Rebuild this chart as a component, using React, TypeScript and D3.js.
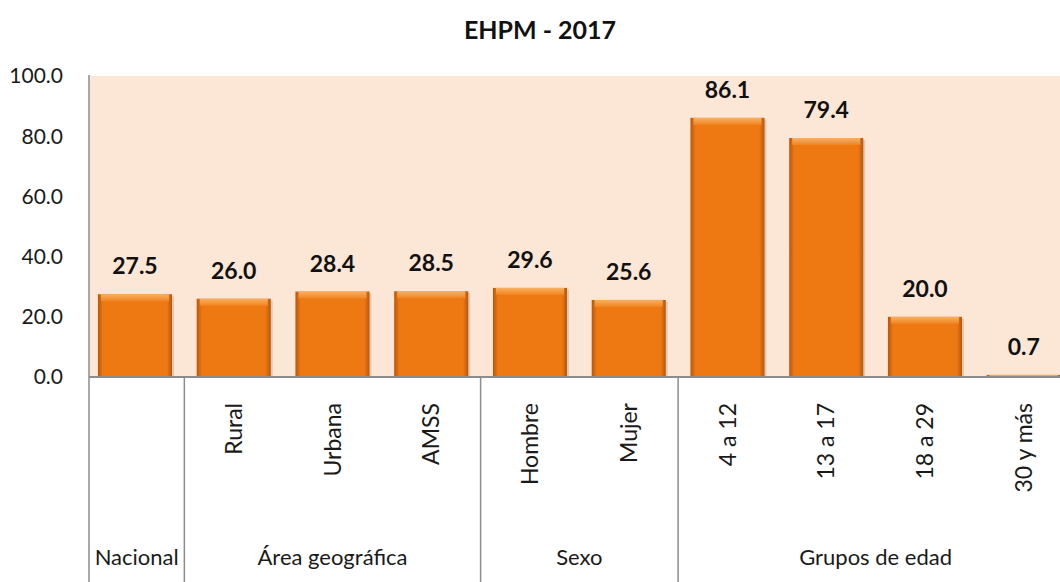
import React from "react";
import * as d3 from "d3";

const categories = ["Nacional", "Rural", "Urbana", "AMSS", "Hombre", "Mujer", "4 a 12", "13 a 17", "18 a 29", "30 y más"];
const values = [27.5, 26.0, 28.4, 28.5, 29.6, 25.6, 86.1, 79.4, 20.0, 0.7];
const groups = ["Nacional", "Área geográfica", "Sexo", "Grupos de edad"];
const groupStarts = [0, 1, 4, 6];
const groupEnds = [1, 4, 6, 10];
const yTicks = [0, 20, 40, 60, 80, 100];
const title = "EHPM - 2017";

const W = 1060, H = 582;
const axisX = 89;
const rangeL = 85.6, rangeR = 1073.1, top = 76, bottom = 377;
const FONT = "Lato, 'Open Sans', sans-serif";

export default function App() {
  const x = d3.scaleBand<string>().domain(categories).range([rangeL, rangeR]).paddingInner(0.25).paddingOuter(0.125);
  const y = d3.scaleLinear().domain([0, 100]).range([bottom, top]);
  const step = x.step();
  const bandStart = (i: number) => rangeL + i * step;
  const bw = x.bandwidth();

  return (
    <svg width={W} height={H} style={{ position: "absolute", left: 0, top: 0, background: "#fff" }} fontFamily={FONT}>
      <defs>
        <linearGradient id="hg" x1="0" x2="1" y1="0" y2="0">
          <stop offset="0" stopColor="#b9560a" />
          <stop offset="0.07" stopColor="#ee7812" />
          <stop offset="0.93" stopColor="#ee7812" />
          <stop offset="1" stopColor="#b9560a" />
        </linearGradient>
        <linearGradient id="vg" x1="0" x2="0" y1="0" y2="1">
          <stop offset="0" stopColor="#fab062" />
          <stop offset="1" stopColor="#f08420" />
        </linearGradient>
      </defs>
      <text x={540} y={39} textAnchor="middle" fontSize={25} fontWeight="bold" fill="#111">{title}</text>
      <rect x={axisX} y={y(100)} width={W - axisX} height={bottom - y(100)} fill="#fce6d6" />
      {yTicks.map((t) => (
        <text key={t} x={63} y={y(t)} dy="0.35em" textAnchor="end" fontSize={21} fill="#1a1a1a">{t.toFixed(1)}</text>
      ))}
      {categories.map((c, i) => {
        const v = values[i];
        const bx = x(c)!;
        const by = y(v);
        const h = bottom - by;
        const cap = Math.min(7, h);
        return (
          <g key={c}>
            <rect x={bx + 2} y={by + 2} width={bw} height={h - 2} fill="#000" opacity={0.12} />
            <rect x={bx} y={by} width={bw} height={h} fill="url(#hg)" />
            <rect x={bx + 3} y={by} width={bw - 6} height={cap} fill="url(#vg)" />
            <text x={bx + bw / 2} y={by - 20} textAnchor="middle" fontSize={23} fontWeight="bold" fill="#111">{v.toFixed(1)}</text>
            {i > 0 && (
              <text transform={`translate(${bx + bw / 2},403) rotate(-90)`} textAnchor="end" dy="0.35em" fontSize={23} fill="#1a1a1a">{c}</text>
            )}
          </g>
        );
      })}
      <line x1={axisX} x2={W} y1={bottom} y2={bottom} stroke="#8c8c8c" strokeWidth={2} />
      <line x1={axisX} x2={axisX} y1={top - 1} y2={H} stroke="#8c8c8c" strokeWidth={1.5} />
      {groupStarts.slice(1).map((s) => (
        <line key={s} x1={bandStart(s)} x2={bandStart(s)} y1={bottom} y2={H} stroke="#8c8c8c" strokeWidth={1.5} />
      ))}
      {groups.map((g, gi) => {
        const cx = gi === 0 ? (axisX + bandStart(1)) / 2 : (bandStart(groupStarts[gi]) + bandStart(groupEnds[gi])) / 2;
        return (
          <text key={g} x={cx} y={565} textAnchor="middle" fontSize={22} fill="#1a1a1a">{g}</text>
        );
      })}
    </svg>
  );
}
